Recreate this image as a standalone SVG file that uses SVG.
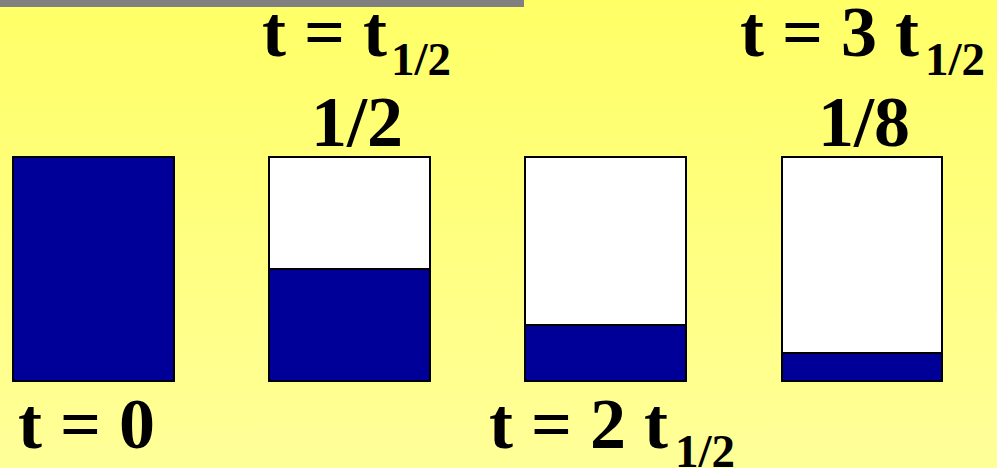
<svg xmlns="http://www.w3.org/2000/svg" width="997" height="468" viewBox="0 0 997 468">
<defs>
<linearGradient id="bg" x1="0" y1="0" x2="0" y2="1">
<stop offset="0" stop-color="#ffff66"/>
<stop offset="1" stop-color="#ffff99"/>
</linearGradient>
</defs>
<style>
.lbl{font-family:"Liberation Serif","Times New Roman",serif;font-weight:bold;font-size:72px;fill:#000}
.sub{font-size:47px}
.box{stroke:#000;stroke-width:2}
.empty{fill:#fff}
.full{fill:#000099}
</style>
<rect x="0" y="0" width="997" height="468" fill="url(#bg)"/>
<rect x="0" y="0" width="524" height="7" fill="#808080"/>
<g id="jar0">
<rect class="box full" x="13" y="157" width="161" height="224"/>
<text class="lbl" x="18" y="448">t = 0</text>
</g>
<g id="jar1">
<rect class="box empty" x="269" y="157" width="161" height="224"/>
<rect class="box full" x="269" y="269" width="161" height="112"/>
<text class="lbl" x="262" y="56">t = t<tspan class="sub" x="391" y="75">1/2</tspan></text>
<text class="lbl" x="311" y="146">1/2</text>
</g>
<g id="jar2">
<rect class="box empty" x="525" y="157" width="161" height="224"/>
<rect class="box full" x="525" y="325" width="161" height="56"/>
<text class="lbl" x="489" y="448">t = 2 t<tspan class="sub" x="675" y="467">1/2</tspan></text>
</g>
<g id="jar3">
<rect class="box empty" x="782" y="157" width="160" height="224"/>
<rect class="box full" x="782" y="353" width="160" height="28"/>
<text class="lbl" x="740" y="56">t = 3 t<tspan class="sub" x="925" y="75">1/2</tspan></text>
<text class="lbl" x="818" y="146">1/8</text>
</g>
<g id="connectors"/>
</svg>
